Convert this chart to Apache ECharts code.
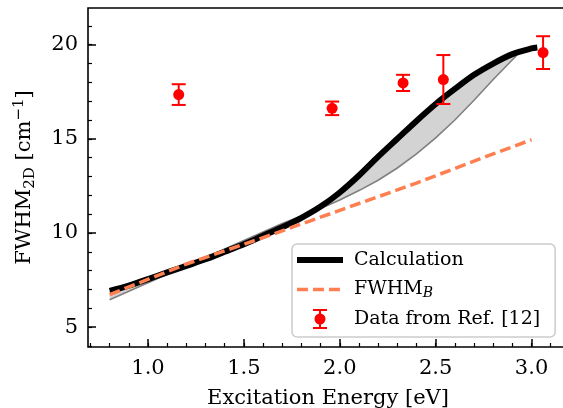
<!DOCTYPE html>
<html>
<head>
<meta charset="utf-8">
<script src="https://cdn.jsdelivr.net/npm/echarts@6.0.0/dist/echarts.min.js"></script>
<style>
  html, body { margin: 0; padding: 0; background: #fff; }
  #chart { width: 563px; height: 408px; }
</style>
</head>
<body>
<div id="chart"></div>
<script>
// Calculation (black)
const calcX = [0.8, 0.9, 1.0, 1.1, 1.2, 1.3, 1.4, 1.5, 1.6, 1.7, 1.8, 1.9, 2.0, 2.1, 2.2, 2.3, 2.4, 2.5, 2.6, 2.7, 2.8, 2.9, 3.0, 3.03];
const calcY = [6.92, 7.2, 7.55, 7.9, 8.25, 8.6, 9.0, 9.4, 9.85, 10.3, 10.8, 11.4, 12.15, 13.05, 14.05, 15.0, 15.95, 16.85, 17.65, 18.4, 19.0, 19.5, 19.8, 19.85];

// grey band (upper / lower bound)
const bandX = [0.8, 0.9, 1.0, 1.1, 1.2, 1.3, 1.4, 1.5, 1.6, 1.7, 1.8, 1.9, 2.0, 2.1, 2.2, 2.3, 2.4, 2.5, 2.6, 2.7, 2.8, 2.9, 2.92];
const bandUpper = [6.92, 7.2, 7.55, 7.9, 8.25, 8.6, 9.0, 9.4, 9.85, 10.3, 10.8, 11.4, 12.15, 13.05, 14.05, 15.0, 15.95, 16.85, 17.65, 18.4, 19.0, 19.5, 19.45];
const bandLower = [6.45, 6.9, 7.35, 7.8, 8.25, 8.7, 9.15, 9.6, 10.05, 10.5, 10.9, 11.3, 11.75, 12.25, 12.8, 13.45, 14.2, 15.05, 16.0, 17.05, 18.15, 19.2, 19.4];

// FWHM_B (orange dashed)
const fwhmBX = [0.8, 1.2, 1.6, 2.0, 2.4, 2.8, 3.0];
const fwhmBY = [6.72, 8.35, 9.75, 11.2, 12.65, 14.2, 14.95];

// Data from Ref. [12]
const refX = [1.16, 1.96, 2.33, 2.54, 3.06];
const refY = [17.35, 16.62, 17.97, 18.15, 19.58];
const refErr = [0.55, 0.36, 0.43, 1.3, 0.87];

const xMajor = [1.0, 1.5, 2.0, 2.5, 3.0];
const xMinor = [0.7, 0.8, 0.9, 1.0, 1.1, 1.2, 1.3, 1.4, 1.5, 1.6, 1.7, 1.8, 1.9, 2.0, 2.1, 2.2, 2.3, 2.4, 2.5, 2.6, 2.7, 2.8, 2.9, 3.0, 3.1];
const yMajor = [5, 10, 15, 20];
const yMinor = [4, 5, 6, 7, 8, 9, 10, 11, 12, 13, 14, 15, 16, 17, 18, 19, 20, 21];

const FONT = 'DejaVu Serif';
const X_MIN = 0.687, X_MAX = 3.19;
const Y_MIN = 3.94, Y_MAX = 21.95;

const chart = echarts.init(document.getElementById('chart'));

// legend icons, all in a 46x20 box (tiny corner segments keep the box size)
const PAD = 'M0,0 L0.01,0 Z M46,20 L45.99,20 Z ';
const calcIcon = 'path://' + PAD + 'M0,7 H46 V13 H0 Z';
const dashIcon = 'path://' + PAD + 'M0,8.25 H11 V11.75 H0 Z M16,8.25 H27 V11.75 H16 Z M32,8.25 H43 V11.75 H32 Z';
const errIcon = 'path://' + PAD + 'M16,0 H30 V2 H24 V18 H30 V20 H16 V18 H22 V2 H16 Z M17.5,10 A5.5,5.5 0 1,1 28.5,10 A5.5,5.5 0 1,1 17.5,10 Z';

function xAxisBase(extra) {
  return Object.assign({
    type: 'value', min: X_MIN, max: X_MAX, position: 'bottom',
    axisLine: { show: false },
    splitLine: { show: false }
  }, extra);
}
function yAxisBase(extra) {
  return Object.assign({
    type: 'value', min: Y_MIN, max: Y_MAX, position: 'left',
    axisLine: { show: false },
    splitLine: { show: false }
  }, extra);
}

const option = {
  animation: false,
  grid: {
    left: 88, top: 8, right: -5, bottom: 61,
    containLabel: false,
    outerBoundsMode: 'none',
    show: true, borderColor: '#000', borderWidth: 1.6, backgroundColor: 'transparent'
  },
  xAxis: [
    xAxisBase({
      name: 'Excitation Energy [eV]',
      nameLocation: 'middle', nameGap: 41,
      nameTextStyle: { fontFamily: FONT, fontSize: 21, color: '#000' },
      axisTick: { inside: true, length: 8, lineStyle: { color: '#000', width: 1.5 }, customValues: xMajor },
      axisLabel: { fontFamily: FONT, fontSize: 21, color: '#000', margin: 11, customValues: xMajor,
        formatter: v => v.toFixed(1) }
    }),
    xAxisBase({
      axisTick: { inside: true, length: 4, lineStyle: { color: '#000', width: 1.2 }, customValues: xMinor },
      axisLabel: { show: false }
    })
  ],
  yAxis: [
    yAxisBase({
      name: '{n|FWHM}{sub|2D}{n| [cm}{sup|−1}{n|]}',
      nameLocation: 'middle', nameGap: 50,
      nameTextStyle: {
        fontFamily: FONT, fontSize: 21, color: '#000',
        rich: {
          n: { fontFamily: FONT, fontSize: 21, lineHeight: 26, color: '#000' },
          sub: { fontFamily: FONT, fontSize: 15, lineHeight: 12, verticalAlign: 'bottom', color: '#000' },
          sup: { fontFamily: FONT, fontSize: 15, lineHeight: 12, verticalAlign: 'top', color: '#000' }
        }
      },
      axisTick: { inside: true, length: 8, lineStyle: { color: '#000', width: 1.5 }, customValues: yMajor },
      axisLabel: { fontFamily: FONT, fontSize: 21, color: '#000', margin: 10, customValues: yMajor }
    }),
    yAxisBase({
      axisTick: { inside: true, length: 4, lineStyle: { color: '#000', width: 1.2 }, customValues: yMinor },
      axisLabel: { show: false }
    })
  ],
  legend: {
    orient: 'vertical',
    left: 292, top: 244,
    padding: [6, 15, 8, 5],
    itemWidth: 46, itemHeight: 20, itemGap: 8.5,
    backgroundColor: 'rgba(255,255,255,0.8)',
    borderColor: '#cccccc', borderWidth: 1.5, borderRadius: 5,
    textStyle: {
      fontFamily: FONT, fontSize: 19, color: '#000', padding: [0, 0, 0, 6], lineHeight: 20,
      rich: {
        n: { fontFamily: FONT, fontSize: 19, color: '#000', lineHeight: 22 },
        sub: { fontFamily: FONT, fontSize: 14, fontStyle: 'italic', color: '#000', lineHeight: 12, verticalAlign: 'bottom' }
      }
    },
    formatter: name => name === 'FWHM_B' ? '{n|FWHM}{sub|B}' : name,
    data: [
      { name: 'Calculation', icon: calcIcon },
      { name: 'FWHM_B', icon: dashIcon },
      { name: 'Data from Ref. [12]', icon: errIcon }
    ]
  },
  series: [
    {
      name: 'band',
      type: 'custom',
      z: 1,
      silent: true,
      data: [[bandX[0], bandLower[0]]],
      renderItem: function (params, api) {
        const upper = bandX.map((x, i) => api.coord([x, bandUpper[i]]));
        const lower = bandX.map((x, i) => api.coord([x, bandLower[i]]));
        const poly = upper.concat(lower.slice().reverse());
        return {
          type: 'group',
          children: [
            { type: 'polygon', shape: { points: poly }, style: { fill: '#d3d3d3', stroke: null } },
            { type: 'polyline', shape: { points: lower }, style: { fill: null, stroke: '#808080', lineWidth: 1.6 } }
          ]
        };
      }
    },
    {
      name: 'Calculation',
      type: 'line',
      z: 2,
      data: calcX.map((x, i) => [x, calcY[i]]),
      symbol: 'none',
      smooth: 0.3,
      lineStyle: { color: '#000', width: 6 },
      itemStyle: { color: '#000' }
    },
    {
      name: 'FWHM_B',
      type: 'line',
      z: 3,
      data: fwhmBX.map((x, i) => [x, fwhmBY[i]]),
      symbol: 'none',
      lineStyle: { color: '#ff7f50', width: 3.5, type: [11, 5] },
      itemStyle: { color: '#ff7f50' }
    },
    {
      name: 'Data from Ref. [12]',
      type: 'custom',
      z: 4,
      itemStyle: { color: '#ff0000' },
      data: refX.map((x, i) => [x, refY[i], refErr[i]]),
      encode: { x: 0, y: 1 },
      renderItem: function (params, api) {
        const x = api.value(0), y = api.value(1), e = api.value(2);
        const mid = api.coord([x, y]);
        const top = api.coord([x, y + e]);
        const bot = api.coord([x, y - e]);
        const cap = 7;
        const st = { stroke: '#ff0000', lineWidth: 2 };
        return {
          type: 'group',
          children: [
            { type: 'line', shape: { x1: mid[0], y1: top[1], x2: mid[0], y2: bot[1] }, style: st },
            { type: 'line', shape: { x1: mid[0] - cap, y1: top[1], x2: mid[0] + cap, y2: top[1] }, style: st },
            { type: 'line', shape: { x1: mid[0] - cap, y1: bot[1], x2: mid[0] + cap, y2: bot[1] }, style: st },
            { type: 'circle', shape: { cx: mid[0], cy: mid[1], r: 5.5 }, style: { fill: '#ff0000' } }
          ]
        };
      }
    }
  ]
};

chart.setOption(option);
</script>
</body>
</html>
